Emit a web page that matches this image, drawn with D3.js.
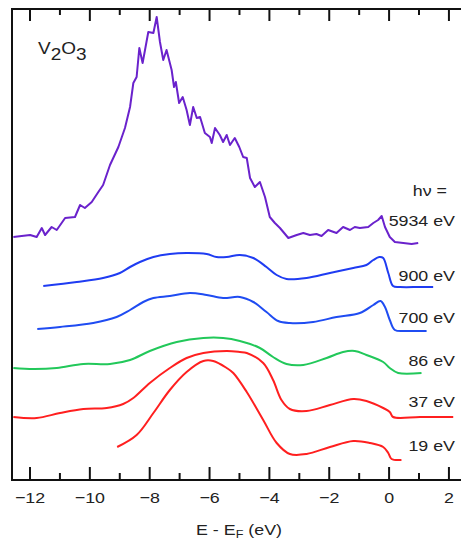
<!DOCTYPE html>
<html><head><meta charset="utf-8">
<script src="https://cdn.jsdelivr.net/npm/d3@7"></script>
<style>
body{margin:0;background:#fff;}
text{font-family:"Liberation Sans",Arial,Helvetica,sans-serif;fill:#222;}
</style>
</head><body>
<svg id="c" width="461" height="541"></svg>
<script>
// ---- data (E - E_F in eV, offset intensity in arb. units) ----
const seriesLabels = ["5934 eV","900 eV","700 eV","86 eV","37 eV","19 eV"];
const seriesColors = ["#6a22cc","#1f3cf2","#1f4cf2","#22c85a","#ff1f1f","#ff1f1f"];

const e5934 = [-12.54,-11.98,-11.76,-11.59,-11.48,-11.26,-11.09,-10.81,-10.48,-10.31,-10.15,-9.92,-9.70,-9.54,-9.31,-9.03,-8.81,-8.64,-8.53,-8.42,-8.33,-8.22,-8.14,-8.03,-7.86,-7.75,-7.64,-7.53,-7.42,-7.25,-7.17,-7.11,-7.00,-6.88,-6.75,-6.64,-6.53,-6.41,-6.30,-6.14,-5.97,-5.91,-5.80,-5.64,-5.53,-5.41,-5.30,-5.14,-4.99,-4.86,-4.74,-4.63,-4.47,-4.30,-4.13,-3.97,-3.80,-3.63,-3.35,-3.07,-2.85,-2.63,-2.41,-2.24,-2.02,-1.74,-1.52,-1.29,-1.13,-0.96,-0.68,-0.51,-0.35,-0.23,-0.12,0.04,0.21,0.49,0.77,0.99];
const i5934 = [243,245,243,252,245,253,250,262,263,275,272,278,288,295,315,333,352,373,397,403,432,417,430,448,447,463,438,420,430,410,393,398,377,383,370,355,373,362,363,347,343,337,352,345,338,345,335,342,333,323,322,302,293,298,283,263,257,252,242,245,247,245,246,244,250,247,253,250,253,252,253,257,260,264,253,243,238,237,236,237];

const e900 = [-11.54,-10.42,-9.54,-8.98,-8.64,-8.31,-7.86,-7.31,-6.75,-6.08,-5.75,-5.41,-4.97,-4.52,-4.08,-3.74,-3.41,-2.74,-1.96,-1.18,-0.74,-0.51,-0.31,-0.18,-0.01,0.15,0.38,1.05,1.49];
const i900 = [194,198,202,207,213,218,223,226,227,226,223,223,225,222,213,205,201,202,207,212,215,220,223,222,207,194,193,193,193];

const e700 = [-11.74,-10.98,-9.87,-9.09,-8.64,-8.20,-7.86,-7.31,-6.64,-6.08,-5.53,-4.97,-4.52,-4.08,-3.69,-3.30,-2.52,-1.74,-0.96,-0.51,-0.27,-0.12,0.04,0.21,0.60,1.27];
const i700 = [151,153,157,163,170,178,182,184,187,185,182,183,178,168,159,157,158,163,167,175,179,173,160,150,149,149];

const e86 = [-12.54,-11.87,-11.09,-10.20,-9.31,-8.64,-7.98,-7.08,-6.19,-5.53,-4.97,-4.30,-3.86,-3.41,-2.85,-2.07,-1.52,-1.13,-0.74,-0.18,0.04,0.32,1.10];
const i86 = [112,111,112,116,116,120,129,138,142,142,139,132,123,116,115,122,128,129,125,118,112,107,107];

const e37 = [-12.54,-11.76,-10.98,-10.20,-9.42,-8.87,-8.53,-7.98,-7.31,-6.75,-6.19,-5.41,-4.97,-4.74,-4.19,-3.86,-3.58,-3.30,-2.74,-1.96,-1.18,-0.74,-0.18,0.04,0.15,1.05,2.16];
const i37 = [63,62,67,71,72,76,82,97,112,122,127,129,128,127,117,100,80,71,69,75,81,79,72,68,63,63,63];

const e19 = [-9.07,-8.42,-7.86,-7.31,-6.75,-6.19,-5.86,-5.41,-5.19,-4.74,-4.19,-3.74,-3.30,-2.74,-1.96,-1.18,-0.62,-0.18,-0.01,0.10,0.43];
const i19 = [33,45,67,90,108,119,119,112,107,88,60,37,26,26,33,39,37,33,27,21,20];

const majorTicks = [-12,-10,-8,-6,-4,-2,0,2];
const minorTicks = [-11,-9,-7,-5,-3,-1,1];

const energies = [e5934,e900,e700,e86,e37,e19];
const intensities = [i5934,i900,i700,i86,i37,i19];

// ---- layout ----
const svg = d3.select("#c");
const x = d3.scaleLinear().domain([-12.585, 2.42]).range([12, 461]);
const y = d3.scaleLinear().domain([0, 472]).range([480, 8]);
const FS = "15.5px", SX = 1.15;

const series = seriesLabels.map((lab, k) => ({
  label: lab, color: seriesColors[k],
  pts: energies[k].map((e, j) => [e, intensities[k][j]])
}));

series.forEach((s, k) => {
  const line = d3.line().x(d => x(d[0])).y(d => y(d[1]))
    .curve(k === 0 ? d3.curveLinear : d3.curveCatmullRom.alpha(0.5));
  svg.append("path").datum(s.pts).attr("d", line)
    .attr("fill", "none").attr("stroke", s.color)
    .attr("stroke-width", 2).attr("stroke-linejoin", "round");
});

// axes
function styleAxis(g) {
  g.selectAll("path.domain").attr("stroke", "#111").attr("stroke-width", 2);
  g.selectAll(".tick line").attr("stroke", "#111").attr("stroke-width", 2);
}
const gB = svg.append("g").attr("transform", "translate(0,480)")
  .call(d3.axisBottom(x).tickValues(majorTicks).tickSizeInner(-13).tickSizeOuter(0).tickPadding(12).tickFormat(d3.format("d")));
gB.selectAll("text").attr("font-size", FS).attr("font-family", null)
  .attr("transform", `scale(${SX},1)`).style("fill", "#222");
gB.select(".domain").attr("d", "M12,0H461");
styleAxis(gB);
const gBm = svg.append("g").attr("transform", "translate(0,480)")
  .call(d3.axisBottom(x).tickValues(minorTicks).tickSizeInner(-7).tickSizeOuter(0).tickFormat(""));
gBm.select(".domain").remove();
styleAxis(gBm);

const gT = svg.append("g").attr("transform", "translate(0,9)")
  .call(d3.axisTop(x).tickValues(majorTicks).tickSizeInner(-12).tickSizeOuter(0).tickFormat(""));
gT.select(".domain").attr("d", "M11,0H461");
styleAxis(gT);
const gTm = svg.append("g").attr("transform", "translate(0,9)")
  .call(d3.axisTop(x).tickValues(minorTicks).tickSizeInner(-6).tickSizeOuter(0).tickFormat(""));
gTm.select(".domain").remove();
styleAxis(gTm);

svg.append("line").attr("x1", 12).attr("x2", 12).attr("y1", y.range()[1]).attr("y2", y.range()[0] + 1)
  .attr("stroke", "#111").attr("stroke-width", 2);

// texts
function txt(xp, yp, anchor) {
  return svg.append("text").attr("transform", `translate(${xp},${yp}) scale(${SX},1)`)
    .attr("text-anchor", anchor).attr("font-size", FS);
}
const t0 = txt(38, 54, "start").attr("font-size", "16.5px");
t0.append("tspan").text("V");
t0.append("tspan").attr("dy", 6).text("2");
t0.append("tspan").attr("dy", -6).text("O");
t0.append("tspan").attr("dy", 6).text("3");

txt(447, 196, "end").text("hν =");
const labelBaselines = [226, 281, 323, 366, 407, 451];
series.forEach((s, k) => txt(455, labelBaselines[k], "end").text(s.label));

const tt = txt(239, 535, "middle");
tt.append("tspan").text("E - E");
tt.append("tspan").attr("font-size", "11px").attr("dy", 3).text("F");
tt.append("tspan").attr("dy", -3).text(" (eV)");
</script>
</body></html>
